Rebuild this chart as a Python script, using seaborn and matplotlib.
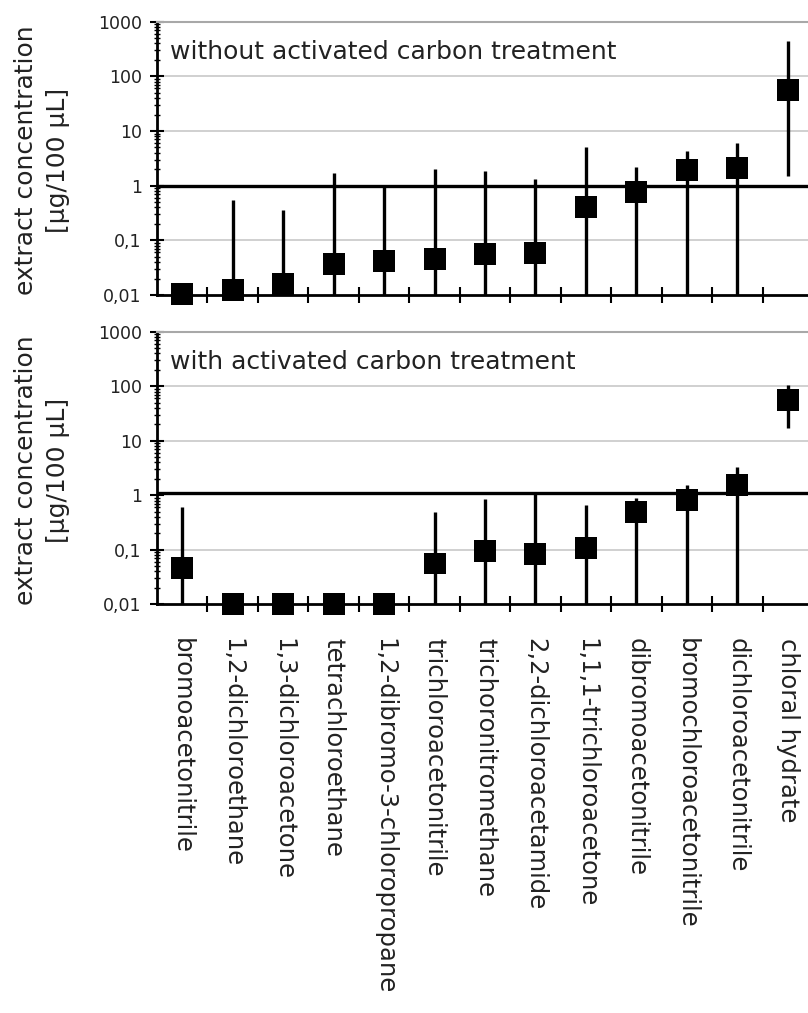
import matplotlib
matplotlib.use("Agg")
import matplotlib.pyplot as plt
import seaborn as sns
import numpy as np
import pandas as pd
from matplotlib.ticker import FixedLocator, FixedFormatter, LogLocator, NullFormatter

compounds = ["bromoacetonitrile", "1,2-dichloroethane", "1,3-dichloroacetone",
             "tetrachloroethane", "1,2-dibromo-3-chloropropane", "trichloroacetonitrile",
             "trichoronitromethane", "2,2-dichloroacetamide", "1,1,1-trichloroacetone",
             "dibromoacetonitrile", "bromochloroacetonitrile", "dichloroacetonitrile",
             "chloral hydrate"]

# without activated carbon treatment
top_value = [0.0105, 0.0124, 0.0159, 0.037, 0.042, 0.046, 0.056, 0.058, 0.41, 0.78, 1.9, 2.1, 56]
top_low = [0.0105, 0.01, 0.01, 0.01, 0.01, 0.01, 0.01, 0.01, 0.01, 0.01, 0.01, 0.01, 1.52]
top_high = [0.0105, 0.55, 0.36, 1.73, 1.0, 2.0, 1.88, 1.33, 5.2, 2.2, 4.4, 6.1, 450]

# with activated carbon treatment
bot_value = [0.047, 0.01, 0.01, 0.01, 0.01, 0.056, 0.095, 0.083, 0.11, 0.50, 0.82, 1.54, 55]
bot_low = [0.01, 0.01, 0.01, 0.01, 0.01, 0.01, 0.01, 0.01, 0.01, 0.01, 0.01, 0.01, 16.9]
bot_high = [0.6, 0.01, 0.01, 0.01, 0.01, 0.50, 0.84, 1.1, 0.65, 0.9, 1.54, 3.3, 105]

ytick_vals = [0.01, 0.1, 1, 10, 100, 1000]
ytick_text = ["0,01", "0,1", "1", "10", "100", "1000"]

sns.set_theme(style="white")
plt.rcParams["font.family"] = ["DejaVu Sans"]
txt = "#222222"

fig = plt.figure(figsize=(8.08, 10.13), dpi=100)
W = 656 / 808
ax_top = fig.add_axes([157 / 808, 1 - 295 / 1013, W, (295 - 21.7) / 1013])
ax_bot = fig.add_axes([157 / 808, 1 - 604.3 / 1013, W, (604.3 - 331.7) / 1013])


def panel(ax, value, low, high, title, refline):
    pos = np.arange(len(compounds))
    df = pd.DataFrame({"pos": pos, "value": value, "low": low, "high": high})
    ax.set_yscale("log")
    ax.set_ylim(0.01, 1000)
    ax.set_xlim(-0.5, len(compounds) - 0.5)
    ax.grid(False)
    for yv in [0.1, 10, 100]:
        ax.axhline(yv, color="#c8c8c8", lw=1.2, zorder=0)
    ax.axhline(refline, color="black", lw=2.4, zorder=1)
    ax.vlines(df["pos"], df["low"], df["high"], color="black", lw=2.4, zorder=2)
    sns.scatterplot(data=df, x="pos", y="value", marker="s", s=250, color="black",
                    edgecolor="none", zorder=3, ax=ax, clip_on=False, legend=False)
    for c in ax.collections:
        c.set_clip_on(False)

    ax.yaxis.set_major_locator(FixedLocator(ytick_vals))
    ax.yaxis.set_major_formatter(FixedFormatter(ytick_text))
    ax.yaxis.set_minor_locator(LogLocator(base=10, subs=np.arange(2, 10)))
    ax.yaxis.set_minor_formatter(NullFormatter())
    ax.tick_params(axis="y", which="major", direction="inout", length=10, width=1.5,
                   color="black", labelsize=12.5, labelcolor=txt, pad=6, left=True)
    ax.tick_params(axis="y", which="minor", direction="inout", length=4, width=1,
                   color="black", left=True)

    ax.xaxis.set_major_locator(FixedLocator(pos))
    ax.xaxis.set_minor_locator(FixedLocator(pos[:-1] + 0.5))
    ax.tick_params(axis="x", which="major", length=0, labelsize=17.5, labelcolor=txt,
                   pad=24, bottom=True)
    ax.tick_params(axis="x", which="minor", direction="inout", length=12, width=1.5,
                   color="black", bottom=True)
    ax.set_xlabel("")
    ax.set_ylabel("")

    for side in ["left", "bottom"]:
        ax.spines[side].set_color("black")
        ax.spines[side].set_linewidth(2)
    ax.spines["top"].set_color("#a8a8a8")
    ax.spines["top"].set_linewidth(1.5)
    ax.spines["right"].set_visible(False)

    ax.text(0.02, 0.89, title, transform=ax.transAxes, fontsize=18, color=txt,
            ha="left", va="center")


panel(ax_top, top_value, top_low, top_high, "without activated carbon treatment", 1.0)
panel(ax_bot, bot_value, bot_low, bot_high, "with activated carbon treatment", 1.1)

ax_top.set_xticklabels([])
ax_bot.set_xticklabels(compounds, rotation=-90, ha="center", va="top",
                       rotation_mode="default")

ylab = "extract concentration\n[µg/100 µL]"
fig.text(42 / 808, 1 - 160 / 1013, ylab, rotation=90, ha="center", va="center",
         fontsize=18, color=txt, linespacing=1.45, multialignment="center")
fig.text(42 / 808, 1 - 470 / 1013, ylab, rotation=90, ha="center", va="center",
         fontsize=18, color=txt, linespacing=1.45, multialignment="center")

fig.savefig("out.png", dpi=100, facecolor="white")
